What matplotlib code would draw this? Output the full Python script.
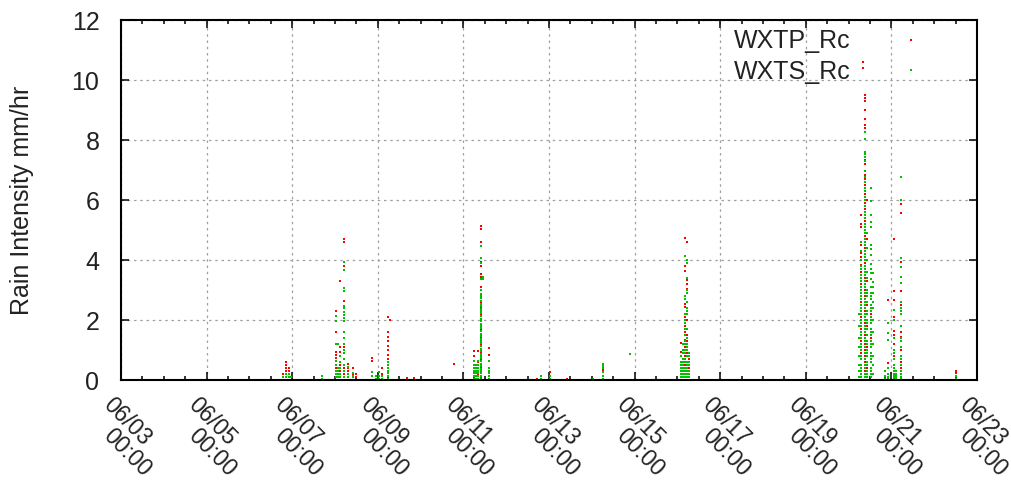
import matplotlib
matplotlib.use("Agg")
import matplotlib.pyplot as plt
from matplotlib.ticker import FixedLocator, NullFormatter
from matplotlib.transforms import offset_copy
import matplotlib.dates as mdates
import pandas as pd

plt.rcParams["font.family"] = ["Liberation Sans", "DejaVu Sans"]
plt.rcParams["font.size"] = 18

YEAR = "2013"
x_start = "06-03 00:00"
x_end = "06-23 00:00"

# rain intensity (mm/hr) per sample time
wxtp_rc = [
    ("06-06 19:00", [0.1, 0.2]),
    ("06-06 20:40", [0.1, 0.2, 0.3, 0.4, 0.5, 0.6]),
    ("06-06 22:20", [0.1, 0.2, 0.3, 0.4]),
    ("06-08 00:40", [0.1, 0.2, 0.4, 0.65, 0.75, 0.85, 0.95, 1.6, 2.3]),
    ("06-08 03:00", [0.1, 0.3, 0.5, 0.95, 1.1, 3.3]),
    ("06-08 05:10", [0.2, 0.4, 0.7, 1.1, 2.65, 3.8, 4.6, 4.7]),
    ("06-08 07:25", [0.1, 0.2, 0.3, 0.4, 0.55]),
    ("06-08 10:15", [0.1, 0.2, 0.4]),
    ("06-08 11:55", [0.1, 0.2]),
    ("06-08 20:55", [0.65, 0.75]),
    ("06-09 02:30", [0.2, 0.4]),
    ("06-09 05:55", [0.1, 0.3, 0.5, 0.7, 0.85, 1.0, 1.15, 1.3, 1.45, 1.6, 2.1]),
    ("06-09 07:00", [2.0]),
    ("06-09 16:35", [0.06]),
    ("06-09 20:30", [0.06]),
    ("06-10 18:55", [0.53]),
    ("06-11 06:10", [0.1, 0.3, 0.5, 0.8, 0.97]),
    ("06-11 08:25", [0.2, 0.4, 0.6, 0.97]),
    ("06-11 10:05", [0.1, 0.25, 0.45, 0.7, 0.9, 1.05, 1.2, 1.4, 1.55, 1.7, 1.85, 2.0,
                     2.2, 2.45, 2.6, 2.8, 3.1, 3.45, 3.55, 3.8, 3.95, 4.6, 5.05, 5.15]),
    ("06-11 14:35", [0.83, 1.07]),
    ("06-12 17:30", [0.04]),
    ("06-13 00:50", [0.28]),
    ("06-13 09:50", [0.04]),
    ("06-14 06:00", [0.28, 0.33]),
    ("06-16 01:50", [0.94, 1.22]),
    ("06-16 04:05", [0.2, 0.5, 0.8, 1.1, 1.35, 1.6, 1.8, 2.1, 2.45, 2.55, 3.65, 3.8, 4.75]),
    ("06-16 05:10", [0.3, 0.6, 0.9, 1.3, 1.5, 2.0, 3.05, 3.2, 3.35, 4.6]),
    ("06-16 06:20", [0.1, 0.4, 0.7]),
    ("06-20 06:50", [0.2, 0.5, 0.9, 1.3, 1.7, 2.1, 2.6, 3.2, 3.6, 3.85, 4.1, 4.25, 4.5,
                     5.1, 5.2, 5.5]),
    ("06-20 08:00", [10.4, 10.6]),
    ("06-20 09:05", [0.3, 0.6, 0.8, 1.0, 1.2, 1.5, 1.9, 2.3, 2.8, 3.0, 3.4, 3.9, 4.4, 4.8,
                     5.3, 5.7, 5.9, 6.2, 6.5, 6.7, 6.85, 7.2, 7.35, 8.4, 8.5, 8.7, 9.0,
                     9.3, 9.4, 9.5]),
    ("06-20 10:15", [0.4, 1.1, 1.8, 2.5, 3.3, 4.0, 4.7, 6.0]),
    ("06-20 12:30", [0.2, 0.7, 1.4, 2.2]),
    ("06-20 20:20", [0.1, 0.3]),
    ("06-20 22:00", [0.1, 0.57, 2.67]),
    ("06-21 01:20", [0.1, 0.2, 0.3, 0.5, 0.8, 1.2, 1.5, 1.65, 2.1, 2.67, 2.98, 4.7]),
    ("06-21 05:20", [0.1, 0.2, 0.4, 0.6, 1.0, 1.45, 1.6, 2.4, 2.5, 2.98, 3.94, 5.57, 5.87]),
    ("06-22 12:00", [0.1, 0.22, 0.3]),
]

wxts_rc = [
    ("06-06 19:00", [0.1]),
    ("06-06 20:40", [0.1, 0.2]),
    ("06-06 22:20", [0.1, 0.2]),
    ("06-06 23:25", [0.1]),
    ("06-07 16:50", [0.05, 0.15]),
    ("06-08 00:40", [0.1, 0.2, 0.3, 0.5, 0.65, 1.2, 1.97, 2.14]),
    ("06-08 01:50", [0.1, 0.2, 0.3, 0.4, 1.2]),
    ("06-08 03:00", [0.1, 0.2, 0.4, 0.6, 0.8]),
    ("06-08 05:10", [0.1, 0.3, 0.5, 0.7, 0.9, 1.0, 1.2, 1.4, 1.6, 1.97, 2.07, 2.17, 2.27,
                     2.4, 2.48, 2.98, 3.07, 3.67, 3.95]),
    ("06-08 07:25", [0.1, 0.2, 0.45]),
    ("06-08 10:15", [0.1, 0.15, 0.25]),
    ("06-08 20:55", [0.14, 0.28]),
    ("06-08 23:10", [0.05, 0.14]),
    ("06-09 00:50", [0.05, 0.14, 0.28]),
    ("06-09 02:30", [0.05, 0.14]),
    ("06-09 05:55", [0.05, 0.14, 0.22, 0.3, 0.4, 0.5, 0.6]),
    ("06-11 06:10", [0.05, 0.14, 0.22, 0.3, 0.4, 0.5, 0.63]),
    ("06-11 07:20", [0.05, 0.14, 0.22, 0.3, 0.4, 0.5]),
    ("06-11 08:25", [0.05, 0.14, 0.22, 0.3, 0.4, 0.5, 0.63]),
    ("06-11 10:05", [0.05, 0.14, 0.22, 0.3, 0.38, 0.47, 0.55, 0.63, 0.72, 0.8, 0.88, 0.97,
                     1.05, 1.13, 1.22, 1.3, 1.38, 1.47, 1.55, 1.63, 1.72, 1.8, 1.88, 1.97,
                     2.05, 2.13, 2.22, 2.3, 2.38, 2.47, 2.55, 2.63, 2.72, 2.8, 2.88, 3.0,
                     3.37, 3.9, 4.06, 4.48]),
    ("06-11 11:15", [3.37, 3.44]),
    ("06-11 14:35", [0.05, 0.14, 0.22, 0.3, 0.4, 0.63]),
    ("06-12 19:15", [0.04, 0.14]),
    ("06-13 00:50", [0.05, 0.15]),
    ("06-14 00:25", [0.04]),
    ("06-14 06:00", [0.04, 0.15, 0.28, 0.4, 0.47, 0.55]),
    ("06-14 21:10", [0.86]),
    ("06-16 01:50", [0.1, 0.2, 0.3, 0.4, 0.5, 0.6, 0.8]),
    ("06-16 03:00", [0.1, 0.2, 0.3, 0.4, 0.5, 0.6, 0.7, 0.9, 1.0, 1.2]),
    ("06-16 04:05", [0.1, 0.2, 0.3, 0.4, 0.6, 0.7, 0.9, 1.0, 1.2, 1.3, 1.5, 1.7, 1.9, 2.0,
                     2.2, 2.7, 2.8, 4.15]),
    ("06-16 05:10", [0.1, 0.2, 0.3, 0.4, 0.5, 0.6, 0.8, 1.0, 1.1, 1.2, 1.4, 1.7, 2.2, 2.3,
                     2.4, 2.6, 2.9, 3.0, 3.4, 3.9, 4.0]),
    ("06-16 06:20", [0.1, 0.2, 0.3, 0.5, 0.6, 0.8, 0.9]),
    ("06-20 05:45", [0.1, 0.3, 0.5, 0.8, 1.1, 1.4, 1.8, 2.2]),
    ("06-20 06:50", [0.1, 0.2, 0.3, 0.4, 0.5, 0.7, 0.8, 1.0, 1.1, 1.2, 1.4, 1.5, 1.6, 1.8,
                     1.9, 2.0, 2.2, 2.3, 2.4, 2.5, 2.7, 2.8, 2.9, 3.0, 3.1, 3.3, 3.4, 3.5,
                     3.7, 3.8, 4.0, 4.3, 4.6]),
    ("06-20 09:05", [0.1, 0.2, 0.4, 0.5, 0.7, 0.9, 1.1, 1.3, 1.4, 1.6, 1.7, 1.8, 2.0, 2.1,
                     2.2, 2.4, 2.5, 2.6, 2.7, 2.9, 3.1, 3.2, 3.3, 3.5, 3.6, 3.7, 3.8, 4.0,
                     4.1, 4.2, 4.3, 4.5, 4.6, 4.7, 4.9, 5.0, 5.1, 5.2, 5.4, 5.5, 5.6, 5.8,
                     6.0, 6.1, 6.3, 6.4, 6.6, 6.78, 6.97, 7.3, 7.45, 7.55, 7.6, 8.03, 8.26]),
    ("06-20 10:15", [0.1, 0.2, 0.3, 0.5, 0.6, 0.8, 0.9, 1.0, 1.2, 1.3, 1.5, 1.7, 1.9, 2.0,
                     2.2, 2.3, 2.6, 2.8, 2.9, 3.0, 3.4, 3.6, 4.0, 4.4, 4.9]),
    ("06-20 12:30", [0.1, 0.2, 0.3, 0.4, 0.6, 0.7, 0.8, 0.9, 1.1, 1.2, 1.3, 1.5, 1.6, 1.7,
                     1.9, 2.0, 2.1, 2.3, 2.4, 2.5, 2.7, 2.8, 2.9, 3.1, 3.37, 3.57, 3.7,
                     3.87, 4.17, 4.37, 4.5, 5.09, 5.28, 5.5, 5.98, 6.39]),
    ("06-20 13:35", [0.2, 0.5, 0.8, 1.2, 1.6, 2.0, 2.4, 2.6, 2.9, 3.11, 3.28, 3.57]),
    ("06-20 20:20", [0.05, 0.15, 0.3]),
    ("06-20 22:00", [0.05, 0.1, 0.2, 0.4, 1.33, 1.57, 1.9]),
    ("06-21 01:20", [0.05, 0.1, 0.15, 0.2, 0.3, 0.4, 0.5, 0.7, 0.9, 1.0, 1.4, 2.0, 2.33]),
    ("06-21 02:30", [0.05, 0.1, 0.15, 0.2, 0.3]),
    ("06-21 05:20", [0.05, 0.1, 0.2, 0.3, 0.5, 0.7, 0.8, 1.1, 1.3, 1.4, 1.8, 2.2, 2.3, 2.4,
                     2.6, 3.24, 3.44, 3.78, 4.07, 6.0, 6.78]),
    ("06-22 12:00", [0.05, 0.12]),
]

series_names = ["WXTP_Rc", "WXTS_Rc"]
series_colors = ["#ff0000", "#00c000"]
y_ticks = [0, 2, 4, 6, 8, 10, 12]


def to_time(stamp):
    return pd.Timestamp(f"{YEAR}-{stamp}")


def expand(columns):
    times, values = [], []
    for stamp, vals in columns:
        for v in vals:
            times.append(to_time(stamp))
            values.append(v)
    return times, values


fig = plt.figure(figsize=(10.12, 4.83), dpi=100)
ax = fig.add_axes([121 / 1012, 103 / 483, 856 / 1012, 360 / 483])

for columns, name, color in zip([wxtp_rc, wxts_rc], series_names, series_colors):
    t, v = expand(columns)
    ax.plot(t, v, linestyle="none", marker="s", markersize=2.0, markeredgewidth=0,
            color=color, label=name)

t0, t1 = to_time(x_start), to_time(x_end)
ax.set_xlim(t0, t1)
ax.set_ylim(0, 12)

major = pd.date_range(t0, t1, freq="2D")
minor = pd.date_range(t0, t1, freq="12h")
ax.xaxis.set_major_locator(FixedLocator(mdates.date2num(major)))
ax.xaxis.set_minor_locator(FixedLocator(mdates.date2num(minor)))
ax.xaxis.set_major_formatter(NullFormatter())
ax.set_yticks(y_ticks)

ax.tick_params(which="both", direction="in", top=True, right=True, width=1.1, color="black")
ax.tick_params(which="major", length=6)
ax.tick_params(which="minor", length=3)
ax.tick_params(axis="y", pad=15.5, labelcolor="#222222")
for s in ax.spines.values():
    s.set_linewidth(1.5)

ax.grid(True, which="major", color="#a0a0a0", linestyle=(0, (2, 3)), linewidth=0.9)

# two-line rotated date labels, second line dropped straight down like gnuplot does
line1 = offset_copy(ax.get_xaxis_transform(), fig=fig, x=-19, y=-26, units="dots")
line2 = offset_copy(ax.get_xaxis_transform(), fig=fig, x=-19, y=-57, units="dots")
for d in major:
    xd = mdates.date2num(d)
    ax.text(xd, 0, d.strftime("%m/%d"), transform=line1, rotation=-45, fontsize=16.5,
            rotation_mode="anchor", ha="left", va="baseline", color="#222222")
    ax.text(xd, 0, d.strftime("%H:%M"), transform=line2, rotation=-45, fontsize=16.5,
            rotation_mode="anchor", ha="left", va="baseline", color="#222222")

ax.set_ylabel("Rain Intensity mm/hr", color="#222222")
ax.yaxis.set_label_coords(-0.116, 0.5)
ax.yaxis.label.set_va("center")

leg = ax.legend(loc="upper right", bbox_to_anchor=(0.952, 0.974), frameon=False,
                markerfirst=False, handlelength=2, handletextpad=1.4, borderpad=0,
                borderaxespad=0, labelspacing=0.26, numpoints=1)
for txt in leg.get_texts():
    txt.set_color("#222222")

fig.savefig("out.png", dpi=100)
